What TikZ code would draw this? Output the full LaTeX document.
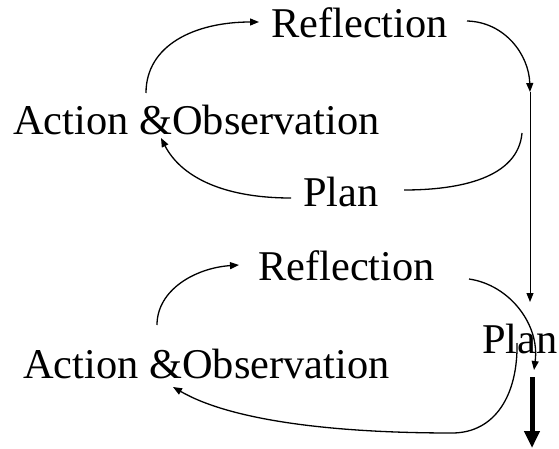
\documentclass[tikz,border=0pt]{standalone}
\usepackage{fontspec}
\setmainfont{Liberation Serif}
\usetikzlibrary{arrows.meta}
\tikzset{
  lbl/.style={inner sep=0pt, anchor=base west, font=\fontsize{42.4pt}{50pt}\selectfont},
  conn/.style={line width=1.3pt, -{Triangle[width=7pt,length=9pt]}},
  plain/.style={line width=1.3pt},
  bigarrow/.style={line width=5pt, -{Triangle[width=15pt,length=17pt]}}
}
\begin{document}
\begin{tikzpicture}[x=1pt,y=-1pt]
\useasboundingbox (0,0) rectangle (559,449);
% labels
\node[lbl] (r1) at (271,38) {Reflection};
\node[lbl] (a1) at (13,135) {Action \&Observation};
\node[lbl] (p1) at (303,206) {Plan};
\node[lbl] (r2) at (258,280) {Reflection};
\node[lbl] (a2) at (23,378) {Action \&Observation};
\node[lbl] (p2) at (482,353) {Plan};
% connector end points
\coordinate (a1top) at (146,93);
\coordinate (r1in) at (259,22);
\coordinate (r1out) at (467,21);
\coordinate (vtop) at (530,92);
\coordinate (vbot) at (530,302);
\coordinate (p1rin) at (522,133);
\coordinate (p1r) at (404,190);
\coordinate (p1l) at (291,198);
\coordinate (a1in) at (161,138);
\coordinate (a2top) at (157,325);
\coordinate (r2in) at (239,265);
\coordinate (r2out) at (469,279);
\coordinate (p2in) at (534,370);
\coordinate (p2top) at (517,343);
\coordinate (p2mid) at (452,433);
\coordinate (a2in) at (173,387);
\coordinate (tks) at (532,377);
\coordinate (tke) at (532,448);
% upper cycle
\draw[conn] (a1top) .. controls (146,45) and (195,22) .. (r1in);
\draw[conn] (r1out) .. controls (505,22) and (529,55) .. (vtop);
\draw[line width=1pt, -{Triangle[width=7pt,length=9pt]}] (vtop) -- (vbot);
\draw[plain] (p1rin) .. controls (518,178) and (460,190) .. (p1r);
\draw[conn] (p1l) .. controls (220,198) and (180,175) .. (a1in);
% lower cycle
\draw[conn] (a2top) .. controls (157,290) and (195,268) .. (r2in);
\draw[conn] (r2out) .. controls (510,285) and (540,325) .. (p2in);
\draw[conn] (p2top) .. controls (518,395) and (495,433) .. (p2mid)
   .. controls (330,433) and (230,420) .. (a2in);
\draw[bigarrow] (tks) -- (tke);
\end{tikzpicture}
\end{document}
